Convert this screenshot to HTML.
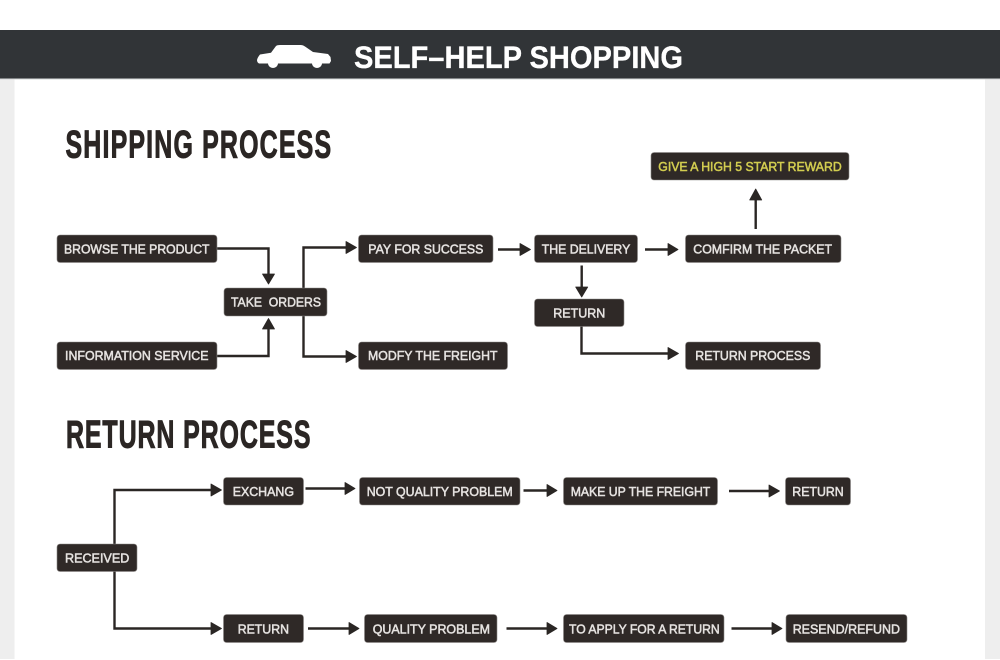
<!DOCTYPE html>
<html>
<head>
<meta charset="utf-8">
<style>
html,body{margin:0;padding:0;background:#fff;width:1000px;height:660px;overflow:hidden}
svg{display:block;filter:blur(.35px)}
text{font-family:"Liberation Sans",sans-serif}
.b{fill:#2f2927;stroke:#8d8987;stroke-width:.6}
.t{font-size:12.500px;fill:#e6e3e1;stroke:#e6e3e1;stroke-width:.5}
.l{fill:none;stroke:#2a2624;stroke-width:2.400}
.h{fill:#2a2624;stroke:#2a2624;stroke-width:.8;stroke-linejoin:round}
.title{font-size:39px;font-weight:700;fill:#2b2624;stroke:#2b2624;stroke-width:1}
</style>
</head>
<body>
<svg width="1000" height="660" viewBox="0 0 1000 660" xmlns="http://www.w3.org/2000/svg">
<rect x="0" y="79" width="14.500" height="580" fill="#eeeeee"/>
<rect x="985" y="79" width="15" height="580" fill="#eeeeee"/>
<rect x="0" y="30" width="1000" height="48.500" fill="#313437"/>
<rect x="0" y="78.500" width="1000" height="1" fill="#d5d8da"/>

<path fill="#fff" d="M257 60 Q257.500 57.500 260 54.500 L271 52.800 L276 46 Q277 45 280 45 L301 45 Q303 45 305 46.500 L313 52 L328 54 L330.500 57 L331 61 L329.500 63.500 L322 63.500 A5 4.500 0 0 1 312 63.500 L278 63.500 A5 4.500 0 0 1 268 63.500 L259 63.500 Q257 62.500 257 60 Z"/>
<text x="354" y="67.800" font-size="31.500" font-weight="700" fill="#fff" stroke="#fff" stroke-width=".3" textLength="329" lengthAdjust="spacingAndGlyphs">SELF–HELP SHOPPING</text>

<text class="title" transform="translate(65.500 157.500) scale(.64 1)" x="0" y="0" textLength="415" lengthAdjust="spacing">SHIPPING PROCESS</text>
<text class="title" transform="translate(66 447.500) scale(.64 1)" x="0" y="0" textLength="382" lengthAdjust="spacing">RETURN PROCESS</text>

<!-- connectors -->
<path class="l" d="M217 248.500H268.500V275"/><path class="h" d="M262.500 274H274.500L268.500 284Z"/>
<path class="l" d="M217 356H268.500V328"/><path class="h" d="M262.500 329H274.500L268.500 318.500Z"/>
<path class="l" d="M303.500 288V247.500H347"/><path class="h" d="M346 241.500V253.500L356.500 247.500Z"/>
<path class="l" d="M303.500 316V356.500H347"/><path class="h" d="M346 350.500V362.500L356.500 356.500Z"/>
<path class="l" d="M498 249.500H521"/><path class="h" d="M520 243.500V255.500L530.500 249.500Z"/>
<path class="l" d="M645 249.500H669"/><path class="h" d="M668 243.500V255.500L678 249.500Z"/>
<path class="l" d="M755.700 229V199"/><path class="h" d="M749.700 200H761.700L755.700 189Z"/>
<path class="l" d="M581.700 265.500V288"/><path class="h" d="M575.700 287H587.700L581.700 297Z"/>
<path class="l" d="M581.500 326V353.500H669"/><path class="h" d="M668 347.500V359.500L678.500 353.500Z"/>

<path class="l" d="M114.500 544V490H212"/><path class="h" d="M211 484V496L221.500 490Z"/>
<path class="l" d="M114.500 571V628.500H212"/><path class="h" d="M211 622.500V634.500L221.500 628.500Z"/>
<path class="l" d="M305.500 488.500H346"/><path class="h" d="M345 482.500V494.500L355 488.500Z"/>
<path class="l" d="M523.500 490.500H548"/><path class="h" d="M547 484.500V496.500L557 490.500Z"/>
<path class="l" d="M729 491H770"/><path class="h" d="M769 485V497L779.500 491Z"/>
<path class="l" d="M308 628.500H350"/><path class="h" d="M349 622.500V634.500L359 628.500Z"/>
<path class="l" d="M506.500 628.500H548"/><path class="h" d="M547 622.500V634.500L557 628.500Z"/>
<path class="l" d="M731.500 628.500H773"/><path class="h" d="M772 622.500V634.500L782 628.500Z"/>

<!-- shipping boxes -->
<rect class="b" x="57" y="235" width="160" height="27.500" rx="3"/>
<text class="t" x="64" y="253.300" textLength="145.500" lengthAdjust="spacingAndGlyphs">BROWSE THE PRODUCT</text>
<rect class="b" x="224" y="288" width="103" height="28" rx="3"/>
<text class="t" x="231" y="306.700" textLength="90" lengthAdjust="spacingAndGlyphs" xml:space="preserve">TAKE  ORDERS</text>
<rect class="b" x="358.500" y="235" width="134.500" height="27.500" rx="3"/>
<text class="t" x="368.300" y="253.300" textLength="115" lengthAdjust="spacingAndGlyphs">PAY FOR SUCCESS</text>
<rect class="b" x="57" y="342" width="160" height="27.500" rx="3"/>
<text class="t" x="65" y="360" textLength="143.500" lengthAdjust="spacingAndGlyphs">INFORMATION SERVICE</text>
<rect class="b" x="358.500" y="342" width="149" height="27.500" rx="3"/>
<text class="t" x="368" y="360" textLength="129.500" lengthAdjust="spacingAndGlyphs">MODFY THE FREIGHT</text>
<rect class="b" x="534.500" y="235" width="103" height="27.500" rx="3"/>
<text class="t" x="541.700" y="253.300" textLength="88.600" lengthAdjust="spacingAndGlyphs">THE DELIVERY</text>
<rect class="b" x="685.500" y="235" width="155.500" height="27.500" rx="3"/>
<text class="t" x="693.300" y="253.300" textLength="138.700" lengthAdjust="spacingAndGlyphs">COMFIRM THE PACKET</text>
<rect class="b" x="651" y="152.500" width="198" height="27.500" rx="3"/>
<text class="t" x="658.300" y="171" textLength="183.400" lengthAdjust="spacingAndGlyphs" style="fill:#d2cd50;stroke:#d2cd50">GIVE A HIGH 5 START REWARD</text>
<rect class="b" x="534.500" y="299" width="89.500" height="27.500" rx="3"/>
<text class="t" x="553.300" y="317.300" textLength="52" lengthAdjust="spacingAndGlyphs">RETURN</text>
<rect class="b" x="685.500" y="342" width="135" height="27.500" rx="3"/>
<text class="t" x="695.300" y="360" textLength="115" lengthAdjust="spacingAndGlyphs">RETURN PROCESS</text>

<!-- return boxes -->
<rect class="b" x="57" y="544" width="80" height="27.500" rx="3"/>
<text class="t" x="65" y="562.700" textLength="64.300" lengthAdjust="spacingAndGlyphs">RECEIVED</text>
<rect class="b" x="223.500" y="477.500" width="80" height="27.500" rx="3"/>
<text class="t" x="232.700" y="496" textLength="61.300" lengthAdjust="spacingAndGlyphs">EXCHANG</text>
<rect class="b" x="359.500" y="477.500" width="160.500" height="27.500" rx="3"/>
<text class="t" x="366.700" y="496" textLength="146" lengthAdjust="spacingAndGlyphs">NOT QUALITY PROBLEM</text>
<rect class="b" x="563.500" y="477.500" width="154" height="27.500" rx="3"/>
<text class="t" x="570.700" y="496" textLength="139.600" lengthAdjust="spacingAndGlyphs">MAKE UP THE FREIGHT</text>
<rect class="b" x="785.500" y="477.500" width="65" height="27.500" rx="3"/>
<text class="t" x="792.300" y="496" textLength="51.400" lengthAdjust="spacingAndGlyphs">RETURN</text>
<rect class="b" x="223.500" y="614.500" width="80" height="28" rx="3"/>
<text class="t" x="237.700" y="633.300" textLength="51.300" lengthAdjust="spacingAndGlyphs">RETURN</text>
<rect class="b" x="364.500" y="614.500" width="132.500" height="28" rx="3"/>
<text class="t" x="372.700" y="633.300" textLength="117.300" lengthAdjust="spacingAndGlyphs">QUALITY PROBLEM</text>
<rect class="b" x="563.500" y="614.500" width="160.500" height="28" rx="3"/>
<text class="t" x="569" y="633.300" textLength="150.700" lengthAdjust="spacingAndGlyphs">TO APPLY FOR A RETURN</text>
<rect class="b" x="786" y="614.500" width="121" height="28" rx="3"/>
<text class="t" x="792.700" y="633.300" textLength="107.300" lengthAdjust="spacingAndGlyphs">RESEND/REFUND</text>
</svg>
</body>
</html>
